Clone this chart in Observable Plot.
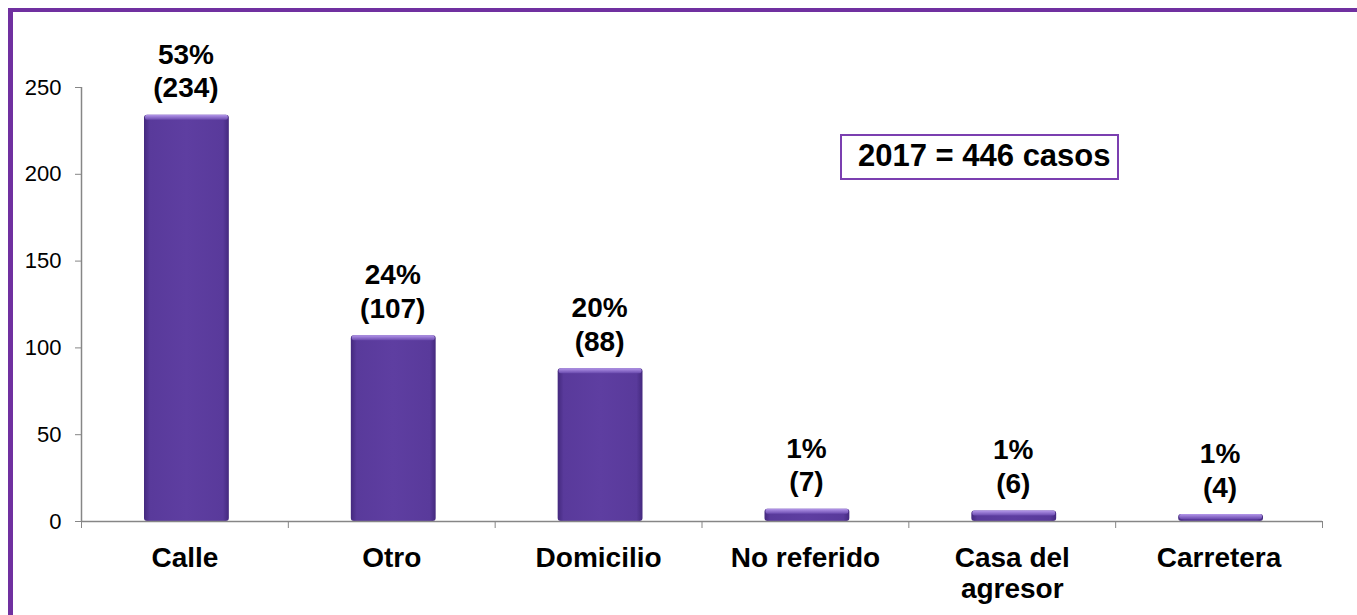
<!DOCTYPE html>
<html>
<head>
<meta charset="utf-8">
<script src="https://cdn.jsdelivr.net/npm/d3@7"></script>
<script src="https://cdn.jsdelivr.net/npm/@observablehq/plot@0.6"></script>
<style>
  html, body { margin: 0; padding: 0; background: #fff; }
  #wrap { position: relative; width: 1357px; height: 615px; overflow: hidden; font-family: Arial, "Liberation Sans", sans-serif; }
  #frame { position: absolute; left: 8px; top: 8px; width: 1400px; height: 700px; border-left: 5px solid #7030A0; border-top: 4px solid #7030A0; box-sizing: border-box; pointer-events: none; }
  #note { position: absolute; left: 840px; top: 134px; width: 279px; height: 46px; box-sizing: border-box; border: 2px solid #7B3FB0; background: #fff; font: bold 31px Arial, "Liberation Sans", sans-serif; color: #000; line-height: 40px; padding-left: 16px; white-space: nowrap; }
  #chart { position: absolute; left: 0; top: 0; }
</style>
</head>
<body>
<div id="wrap">
  <div id="chart"></div>
  <div id="frame"></div>
  <div id="note">2017 = 446 casos</div>
</div>
<script>
const categories = ["Calle", "Otro", "Domicilio", "No referido", "Casa del agresor", "Carretera"];
const counts = [234, 107, 88, 7, 6, 4];
const percents = [53, 24, 20, 1, 1, 1];
const yTicks = [0, 50, 100, 150, 200, 250];

const data = categories.map((c, i) => ({ i, category: c, value: counts[i], pct: percents[i] }));
const font = 'Arial, "Liberation Sans", sans-serif';

const defs = () => {
  const d = d3.create("svg:defs");
  const g = d.append("linearGradient").attr("id", "barGrad").attr("x1", 0).attr("x2", 1).attr("y1", 0).attr("y2", 0);
  [["0%", "#44297E"], ["7%", "#593A9B"], ["50%", "#5E3EA1"], ["93%", "#593A9B"], ["100%", "#44297E"]]
    .forEach(([o, c]) => g.append("stop").attr("offset", o).attr("stop-color", c));
  const h = d.append("linearGradient").attr("id", "topGrad").attr("x1", 0).attr("x2", 0).attr("y1", 0).attr("y2", 1);
  [["0%", "#B497EA"], ["100%", "#6A4AAE"]].forEach(([o, c]) => h.append("stop").attr("offset", o).attr("stop-color", c));
  return d.node();
};

const chart = Plot.plot({
  width: 1357,
  height: 615,
  marginLeft: 81,
  marginRight: 35,
  marginTop: 87,
  marginBottom: 94,
  style: { fontFamily: font, background: "transparent", overflow: "visible" },
  x: { type: "linear", domain: [0, 6], axis: null },
  y: { domain: [0, 250], axis: null },
  marks: [
    defs,
    Plot.rectY(data, {
      x1: d => d.i, x2: d => d.i + 1, y1: 0, y2: "value",
      insetLeft: 63, insetRight: 59,
      fill: "url(#barGrad)", rx: 3
    }),
    Plot.rectY(data, {
      x1: d => d.i, x2: d => d.i + 1, y1: "value", y2: "value",
      insetLeft: 64, insetRight: 60, insetBottom: -5,
      fill: "url(#topGrad)", rx: 2
    }),
    Plot.ruleY([0], { stroke: "#868686", strokeWidth: 1.5 }),
    Plot.ruleX([0], { stroke: "#868686", strokeWidth: 1.5 }),
    Plot.axisY({
      ticks: yTicks, tickSize: 6, tickPadding: 14, fontSize: 22,
      stroke: "#868686", color: "#000", label: null, tickFormat: d => d
    }),
    Plot.axisX({
      ticks: d3.range(categories.length + 1), tickSize: 7,
      stroke: "#868686", tickFormat: () => "", label: null
    }),
    Plot.text(data, {
      x: d => d.i + 0.5, y: 0, text: "category",
      lineAnchor: "top", dy: 24, lineWidth: 6.5, lineHeight: 1.1,
      fontSize: 28, fontWeight: "bold", fill: "#000", textAnchor: "middle"
    }),
    Plot.text(data, {
      x: d => d.i + 0.5, y: "value",
      text: d => `${d.pct}%\n(${d.value})`,
      lineAnchor: "bottom", dx: 1, dy: -18, lineHeight: 1.2,
      fontSize: 28, fontWeight: "bold", fill: "#000", textAnchor: "middle"
    })
  ]
});
document.getElementById("chart").appendChild(chart);
</script>
</body>
</html>
